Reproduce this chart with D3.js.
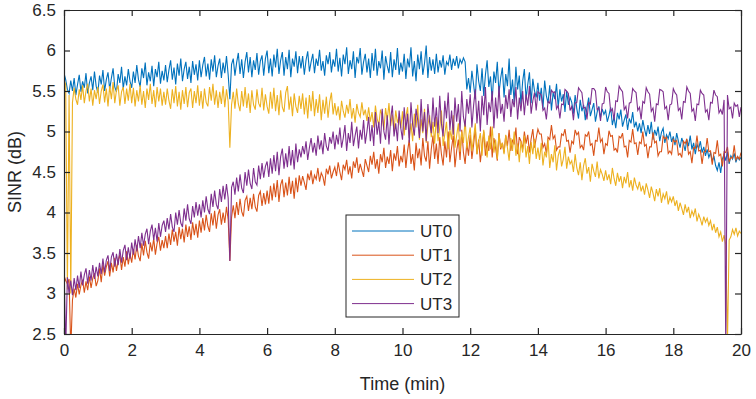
<!DOCTYPE html>
<html>
<head>
<meta charset="utf-8">
<script src="https://cdn.jsdelivr.net/npm/d3@7"></script>
<style>
  body { margin: 0; background: #fff; }
  svg text { font-family: "Liberation Sans", Arial, sans-serif; fill: #262626; }
</style>
</head>
<body>
<div id="container"></div>
<script>
// time axis: 0 to 20 min, one sample every 0.05 min (20 samples per row = 1 min)
const timeStart = 0
const timeStep = 0.05

const seriesNames = ['UT0', 'UT1', 'UT2', 'UT3']

const xTicks = [0, 2, 4, 6, 8, 10, 12, 14, 16, 18, 20]
const yTicks = [2.5, 3, 3.5, 4, 4.5, 5, 5.5, 6, 6.5]

const ut0 = [
  5.72, 5.64, 5.52, 5.47, 5.63, 5.50, 5.66, 5.45, 5.58, 5.70, 5.49, 5.62, 5.54, 5.72, 5.47, 5.60, 5.68, 5.51, 5.74, 5.56,
  5.48, 5.69, 5.58, 5.76, 5.50, 5.64, 5.73, 5.52, 5.66, 5.78, 5.55, 5.49, 5.71, 5.60, 5.80, 5.53, 5.68, 5.57, 5.77, 5.62,
  5.54, 5.74, 5.60, 5.82, 5.64, 5.55, 5.78, 5.66, 5.85, 5.57, 5.73, 5.62, 5.81, 5.56, 5.77, 5.67, 5.86, 5.59, 5.75, 5.63,
  5.82, 5.61, 5.76, 5.88, 5.64, 5.79, 5.58, 5.84, 5.69, 5.90, 5.62, 5.77, 5.86, 5.65, 5.80, 5.60, 5.87, 5.70, 5.83, 5.63,
  5.88, 5.67, 5.82, 5.92, 5.68, 5.84, 5.64, 5.89, 5.74, 5.94, 5.67, 5.81, 5.90, 5.66, 5.85, 5.72, 5.93, 5.70, 5.40, 5.83,
  5.90, 5.69, 5.85, 5.97, 5.71, 5.89, 5.66, 5.86, 5.98, 5.73, 5.92, 5.67, 5.88, 5.76, 5.97, 5.70, 5.87, 5.94, 5.69, 5.90,
  6.00, 5.72, 5.90, 5.68, 5.95, 5.79, 6.02, 5.71, 5.88, 5.98, 5.69, 5.92, 5.77, 6.01, 5.67, 5.90, 5.80, 5.99, 5.72, 5.93,
  5.78, 5.93, 5.70, 5.88, 5.99, 5.74, 5.86, 5.96, 5.72, 5.90, 5.81, 6.01, 5.75, 5.87, 5.69, 5.94, 5.83, 5.98, 5.73, 5.89,
  5.80, 6.02, 5.74, 5.91, 5.68, 5.95, 5.83, 6.04, 5.71, 5.88, 5.77, 5.99, 5.66, 5.92, 5.84, 6.03, 5.70, 5.86, 5.96, 5.73,
  5.90, 5.66, 5.97, 5.75, 6.02, 5.69, 5.87, 5.78, 6.00, 5.64, 5.93, 5.81, 5.72, 5.98, 5.67, 5.89, 5.76, 6.03, 5.70, 5.85,
  5.74, 5.96, 5.65, 5.90, 5.79, 6.04, 5.68, 5.87, 5.62, 5.95, 5.77, 5.99, 5.70, 5.84, 6.06, 5.66, 5.92, 5.75, 5.89, 5.71,
  5.96, 5.73, 5.88, 5.79, 5.94, 5.70, 5.86, 5.82, 5.95, 5.76, 5.90, 5.81, 5.93, 5.78, 5.89, 5.84, 5.91, 5.86, 5.52, 5.66,
  5.48, 5.75, 5.58, 5.40, 5.83, 5.62, 5.50, 5.78, 5.44, 5.70, 5.88, 5.55, 5.68, 5.38, 5.74, 5.60, 5.86, 5.47, 5.66, 5.79,
  5.42, 5.71, 5.56, 5.90, 5.45, 5.64, 5.36, 5.80, 5.52, 5.69, 5.33, 5.62, 5.77, 5.40, 5.58, 5.73, 5.35, 5.65, 5.50, 5.42,
  5.60, 5.38, 5.54, 5.28, 5.63, 5.44, 5.35, 5.57, 5.26, 5.48, 5.40, 5.59, 5.30, 5.52, 5.37, 5.46, 5.24, 5.50, 5.33, 5.42,
  5.36, 5.22, 5.45, 5.28, 5.16, 5.39, 5.25, 5.33, 5.14, 5.30, 5.42, 5.19, 5.27, 5.35, 5.12, 5.24, 5.31, 5.17, 5.28, 5.21,
  5.26, 5.12, 5.20, 5.30, 5.08, 5.18, 5.04, 5.23, 5.15, 5.27, 5.06, 5.14, 5.21, 5.02, 5.16, 5.10, 5.24, 5.05, 5.12, 5.00,
  5.10, 4.98, 5.14, 5.03, 4.94, 5.08, 4.97, 5.12, 4.90, 5.02, 4.95, 5.06, 4.88, 4.99, 5.04, 4.86, 4.96, 4.91, 5.00, 4.87,
  4.94, 4.83, 4.98, 4.88, 4.80, 4.92, 4.85, 4.76, 4.90, 4.82, 4.95, 4.78, 4.86, 4.72, 4.84, 4.79, 4.88, 4.74, 4.81, 4.70,
  4.78, 4.68, 4.74, 4.63, 4.70, 4.58, 4.52, 4.62, 4.49, 4.66, 4.72, 4.64, 4.75, 4.60, 4.70, 4.66, 4.73, 4.62, 4.69, 4.65,
  4.68
]

const ut1 = [
  3.22, 3.16, 3.12, 3.18, 2.30, 2.92, 3.06, 2.95, 3.12, 2.99, 3.10, 3.17, 3.01, 3.15, 3.04, 3.21, 3.07, 3.19, 3.25, 3.09,
  3.16, 3.31, 3.14, 3.36, 3.22, 3.33, 3.40, 3.21, 3.38, 3.26, 3.44, 3.28, 3.41, 3.48, 3.29, 3.45, 3.33, 3.52, 3.36, 3.49,
  3.38, 3.55, 3.42, 3.60, 3.46, 3.40, 3.62, 3.47, 3.65, 3.51, 3.43, 3.63, 3.52, 3.68, 3.48, 3.62, 3.70, 3.53, 3.66, 3.56,
  3.71, 3.56, 3.74, 3.60, 3.79, 3.64, 3.76, 3.59, 3.82, 3.67, 3.80, 3.63, 3.85, 3.70, 3.83, 3.66, 3.88, 3.72, 3.86, 3.69,
  3.90, 3.75, 3.93, 3.78, 3.97, 3.83, 3.76, 3.99, 3.84, 4.02, 3.80, 3.97, 4.04, 3.85, 4.00, 3.87, 4.07, 3.91, 3.40, 3.94,
  4.09, 3.93, 4.13, 3.97, 4.17, 4.01, 3.95, 4.15, 4.20, 4.02, 4.18, 4.04, 4.23, 4.07, 4.01, 4.21, 4.26, 4.08, 4.24, 4.10,
  4.27, 4.11, 4.33, 4.15, 4.36, 4.19, 4.40, 4.13, 4.34, 4.41, 4.19, 4.37, 4.21, 4.44, 4.23, 4.39, 4.17, 4.43, 4.25, 4.46,
  4.33, 4.45, 4.37, 4.28, 4.48, 4.40, 4.52, 4.35, 4.46, 4.41, 4.55, 4.38, 4.49, 4.44, 4.33, 4.54, 4.47, 4.58, 4.42, 4.50,
  4.56, 4.45, 4.62, 4.50, 4.40, 4.59, 4.53, 4.65, 4.47, 4.57, 4.42, 4.63, 4.55, 4.68, 4.49, 4.60, 4.52, 4.44, 4.66, 4.58,
  4.50, 4.70, 4.59, 4.75, 4.54, 4.66, 4.48, 4.72, 4.62, 4.80, 4.55, 4.69, 4.60, 4.77, 4.51, 4.73, 4.64, 4.82, 4.57, 4.70,
  4.62, 4.84, 4.55, 4.76, 4.90, 4.60, 4.72, 4.52, 4.86, 4.67, 4.79, 4.58, 4.92, 4.70, 4.63, 4.88, 4.54, 4.78, 4.95, 4.66,
  4.85, 4.60, 4.93, 4.72, 4.58, 4.88, 4.68, 5.00, 4.62, 4.80, 4.95, 4.56, 4.76, 4.90, 4.65, 5.02, 4.74, 4.60, 4.86, 4.70,
  4.96, 4.66, 4.84, 5.04, 4.72, 4.90, 4.62, 4.82, 5.00, 4.70, 4.88, 4.76, 5.06, 4.68, 4.92, 4.80, 4.64, 4.98, 4.78, 4.86,
  4.74, 4.95, 4.82, 5.02, 4.76, 4.90, 4.84, 5.05, 4.72, 4.93, 4.88, 4.78, 5.00, 4.85, 4.96, 4.74, 4.91, 5.03, 4.80, 4.92,
  5.03, 4.97, 4.97, 4.80, 4.85, 4.73, 4.93, 4.90, 5.08, 4.91, 4.95, 4.77, 4.81, 4.81, 4.97, 4.95, 5.03, 4.88, 4.89, 4.74,
  4.88, 4.85, 5.02, 4.96, 4.99, 4.80, 4.83, 4.77, 4.96, 4.94, 5.00, 4.83, 4.85, 4.70, 4.89, 4.88, 5.05, 4.87, 4.91, 4.72,
  4.85, 4.83, 5.01, 4.94, 4.95, 4.77, 4.79, 4.74, 4.94, 4.92, 4.98, 4.81, 4.82, 4.68, 4.89, 4.87, 5.03, 4.85, 4.86, 4.71,
  4.87, 4.85, 5.00, 4.82, 4.84, 4.67, 4.81, 4.81, 4.99, 4.86, 4.88, 4.70, 4.75, 4.75, 4.94, 4.91, 4.93, 4.73, 4.76, 4.72,
  4.90, 4.87, 4.89, 4.71, 4.73, 4.68, 4.88, 4.85, 4.91, 4.72, 4.75, 4.61, 4.80, 4.79, 4.95, 4.76, 4.77, 4.60, 4.75, 4.75,
  4.92, 4.75, 4.76, 4.59, 4.74, 4.73, 4.89, 4.70, 4.72, 4.57, 4.75, 4.74, 4.81, 4.63, 4.68, 4.67, 4.83, 4.65, 4.69, 4.66,
  4.74
]

const ut2 = [
  5.64, 5.58, 3.05, 5.45, 3.00, 5.36, 5.54, 5.40, 5.33, 5.52, 5.39, 5.57, 5.35, 5.50, 5.59, 5.37, 5.53, 5.32, 5.51, 5.40,
  5.55, 5.34, 5.50, 5.58, 5.36, 5.53, 5.31, 5.56, 5.40, 5.61, 5.35, 5.51, 5.57, 5.32, 5.49, 5.55, 5.34, 5.53, 5.38, 5.59,
  5.35, 5.54, 5.31, 5.51, 5.37, 5.57, 5.33, 5.50, 5.29, 5.53, 5.39, 5.59, 5.34, 5.51, 5.30, 5.55, 5.37, 5.53, 5.32, 5.49,
  5.33, 5.53, 5.38, 5.28, 5.52, 5.35, 5.56, 5.31, 5.49, 5.27, 5.51, 5.34, 5.55, 5.30, 5.48, 5.53, 5.29, 5.50, 5.35, 5.57,
  5.32, 5.50, 5.28, 5.53, 5.36, 5.31, 5.55, 5.38, 5.59, 5.33, 5.51, 5.29, 5.49, 5.34, 5.56, 5.30, 5.52, 5.37, 4.80, 5.33,
  5.49, 5.28, 5.53, 5.34, 5.25, 5.50, 5.31, 5.55, 5.29, 5.47, 5.23, 5.51, 5.33, 5.27, 5.52, 5.35, 5.30, 5.54, 5.26, 5.46,
  5.31, 5.22, 5.49, 5.28, 5.54, 5.25, 5.45, 5.20, 5.51, 5.30, 5.24, 5.48, 5.56, 5.27, 5.43, 5.19, 5.47, 5.31, 5.23, 5.44,
  5.28, 5.47, 5.21, 5.42, 5.16, 5.45, 5.25, 5.50, 5.19, 5.40, 5.23, 5.46, 5.14, 5.39, 5.22, 5.43, 5.17, 5.37, 5.48, 5.21,
  5.35, 5.20, 5.31, 5.14, 5.38, 5.25, 5.17, 5.33, 5.22, 5.40, 5.16, 5.29, 5.11, 5.34, 5.23, 5.18, 5.36, 5.20, 5.27, 5.13,
  5.30, 5.12, 5.24, 5.05, 5.32, 5.16, 5.08, 5.27, 5.19, 5.02, 5.29, 5.14, 5.35, 5.07, 5.21, 5.00, 5.26, 5.11, 5.18, 5.04,
  5.25, 4.95, 5.18, 5.30, 4.92, 5.10, 4.88, 5.22, 5.05, 5.33, 4.90, 5.15, 4.98, 5.28, 4.86, 5.08, 5.20, 4.93, 5.12, 4.85,
  5.18, 4.88, 5.05, 5.26, 4.82, 4.97, 5.12, 4.78, 5.02, 4.90, 5.20, 4.80, 4.95, 5.10, 4.75, 5.00, 4.86, 5.15, 4.79, 4.93,
  5.05, 4.76, 4.92, 5.10, 4.72, 4.88, 4.98, 4.70, 5.02, 4.82, 4.68, 4.95, 4.78, 5.06, 4.74, 4.90, 4.66, 4.97, 4.80, 4.86,
  4.72, 4.96, 4.80, 4.64, 4.92, 4.76, 5.00, 4.70, 4.85, 4.62, 4.88, 4.74, 4.95, 4.68, 4.82, 4.60, 4.87, 4.72, 4.91, 4.66,
  4.80, 4.65, 4.86, 4.58, 4.75, 4.68, 4.90, 4.55, 4.72, 4.62, 4.83, 4.52, 4.70, 4.78, 4.57, 4.66, 4.81, 4.54, 4.69, 4.60,
  4.64, 4.50, 4.72, 4.55, 4.46, 4.62, 4.40, 4.58, 4.67, 4.48, 4.56, 4.38, 4.60, 4.51, 4.44, 4.63, 4.42, 4.53, 4.47, 4.39,
  4.52, 4.40, 4.47, 4.35, 4.55, 4.42, 4.33, 4.49, 4.38, 4.45, 4.30, 4.44, 4.36, 4.50, 4.31, 4.40, 4.27, 4.43, 4.34, 4.29,
  4.38, 4.26, 4.33, 4.22, 4.36, 4.28, 4.18, 4.32, 4.24, 4.14, 4.29, 4.20, 4.30, 4.12, 4.23, 4.17, 4.26, 4.10, 4.19, 4.13,
  4.20, 4.08, 4.15, 4.02, 4.12, 4.05, 3.97, 4.10, 4.00, 4.07, 3.93, 4.02, 3.96, 4.05, 3.89, 3.98, 3.92, 3.84, 3.95, 3.88,
  3.93, 3.84, 3.90, 3.78, 3.86, 3.75, 3.82, 3.70, 3.76, 3.64, 3.72, 3.60, 2.40, 3.66, 3.70, 3.79, 3.73, 3.81, 3.71, 3.77,
  3.74
]

const ut3 = [
  3.36, 2.30, 3.20, 3.00, 3.16, 2.98, 3.19, 3.04, 3.22, 3.07, 3.27, 3.10, 3.23, 3.31, 3.12, 3.29, 3.16, 3.35, 3.18, 3.33,
  3.21, 3.38, 3.24, 3.43, 3.26, 3.41, 3.47, 3.28, 3.45, 3.51, 3.33, 3.49, 3.35, 3.55, 3.38, 3.53, 3.60, 3.41, 3.57, 3.43,
  3.63, 3.48, 3.67, 3.52, 3.71, 3.56, 3.75, 3.59, 3.73, 3.80, 3.61, 3.77, 3.85, 3.66, 3.81, 3.64, 3.87, 3.70, 3.84, 3.90,
  3.76, 3.93, 3.79, 3.98, 3.82, 3.76, 4.00, 3.85, 4.03, 3.87, 3.82, 4.05, 3.90, 4.10, 3.92, 3.86, 4.08, 3.94, 4.13, 3.96,
  4.10, 3.94, 4.15, 4.00, 4.20, 4.04, 3.98, 4.23, 4.07, 4.27, 4.10, 4.04, 4.29, 4.13, 4.33, 4.16, 4.35, 4.18, 3.40, 4.31,
  4.38, 4.22, 4.43, 4.26, 4.47, 4.30, 4.24, 4.50, 4.33, 4.53, 4.36, 4.29, 4.55, 4.38, 4.34, 4.58, 4.41, 4.61, 4.43, 4.57,
  4.63, 4.44, 4.67, 4.48, 4.71, 4.51, 4.75, 4.46, 4.69, 4.79, 4.54, 4.73, 4.56, 4.82, 4.58, 4.77, 4.53, 4.85, 4.62, 4.78,
  4.68, 4.82, 4.72, 4.88, 4.65, 4.80, 4.92, 4.74, 4.86, 4.70, 4.95, 4.78, 4.89, 4.72, 4.98, 4.82, 4.76, 4.93, 4.85, 5.00,
  4.78, 4.96, 4.84, 5.05, 4.80, 4.92, 5.08, 4.76, 4.98, 4.86, 5.12, 4.82, 4.95, 5.06, 4.79, 5.02, 4.90, 5.14, 4.85, 5.00,
  5.18, 4.88, 5.08, 4.82, 5.24, 4.96, 5.12, 4.85, 5.28, 5.00, 4.90, 5.20, 4.84, 5.15, 5.32, 4.94, 5.10, 4.88, 5.26, 5.04,
  4.90, 5.30, 5.02, 5.22, 4.86, 5.36, 5.08, 4.95, 5.28, 5.14, 4.92, 5.40, 5.00, 5.24, 4.88, 5.34, 5.12, 4.98, 5.42, 5.06,
  5.30, 4.98, 5.44, 5.10, 4.94, 5.38, 5.16, 5.48, 5.02, 5.26, 4.96, 5.42, 5.12, 5.34, 5.00, 5.50, 5.18, 5.06, 5.40, 5.22,
  5.46, 5.05, 5.32, 5.52, 5.10, 5.38, 5.00, 5.44, 5.20, 5.55, 5.08, 5.36, 5.24, 5.50, 5.04, 5.42, 5.16, 5.56, 5.22, 5.34,
  5.12, 5.45, 5.28, 5.52, 5.18, 5.40, 5.30, 5.55, 5.15, 5.42, 5.25, 5.50, 5.20, 5.46, 5.32, 5.56, 5.22, 5.38, 5.48, 5.26,
  5.49, 5.47, 5.45, 5.26, 5.29, 5.15, 5.37, 5.35, 5.51, 5.48, 5.49, 5.28, 5.32, 5.16, 5.34, 5.33, 5.52, 5.50, 5.47, 5.26,
  5.31, 5.14, 5.35, 5.36, 5.54, 5.51, 5.48, 5.29, 5.30, 5.15, 5.36, 5.34, 5.53, 5.53, 5.50, 5.27, 5.29, 5.13, 5.34, 5.35,
  5.55, 5.49, 5.47, 5.25, 5.28, 5.14, 5.38, 5.37, 5.56, 5.52, 5.49, 5.27, 5.31, 5.16, 5.35, 5.36, 5.53, 5.50, 5.48, 5.26,
  5.30, 5.15, 5.37, 5.35, 5.54, 5.49, 5.46, 5.25, 5.29, 5.12, 5.34, 5.33, 5.52, 5.51, 5.49, 5.28, 5.31, 5.14, 5.33, 5.34,
  5.53, 5.48, 5.45, 5.26, 5.29, 5.15, 5.37, 5.36, 5.55, 5.50, 5.47, 5.25, 5.28, 5.13, 5.34, 5.33, 5.51, 5.47, 5.45, 5.24,
  5.27, 5.14, 5.36, 5.35, 5.51, 5.45, 5.43, 5.23, 5.27, 5.21, 5.39, 2.30, 5.45, 5.28, 5.30, 5.16, 5.35, 5.31, 5.33, 5.18,
  5.30
]

const colours = ['#0072BD', '#D95319', '#EDB120', '#7E2F8E']

const w = 756
const h = 399
const margin = { left: 64, right: 15, top: 10, bottom: 65 }

const svg = d3.select('#container')
  .append('svg')
  .attr('width', w)
  .attr('height', h)

const x = d3.scaleLinear().domain([0, 20]).range([margin.left, w - margin.right])
const y = d3.scaleLinear().domain([2.5, 6.5]).range([h - margin.bottom, margin.top])

svg.append('clipPath')
  .attr('id', 'plot-clip')
  .append('rect')
  .attr('x', x(0))
  .attr('y', y(6.5))
  .attr('width', x(20) - x(0))
  .attr('height', y(2.5) - y(6.5))

const allSeries = [ut0, ut1, ut2, ut3]

const line = d3.line()
  .x((d, i) => x(timeStart + i * timeStep))
  .y(d => y(d))

svg.append('g')
  .attr('clip-path', 'url(#plot-clip)')
  .selectAll('path')
  .data(allSeries)
  .enter()
  .append('path')
  .attr('d', d => line(d))
  .attr('fill', 'none')
  .attr('stroke', (d, i) => colours[i])
  .attr('stroke-width', 1.1)

// axes, MATLAB style: box with inward ticks on all four sides
const axisColour = '#262626'

const bottomAxis = svg.append('g')
  .attr('transform', 'translate(0,' + y(2.5) + ')')
  .call(d3.axisBottom(x).tickValues(xTicks).tickSizeInner(-6).tickSizeOuter(0).tickPadding(10))
const topAxis = svg.append('g')
  .attr('transform', 'translate(0,' + y(6.5) + ')')
  .call(d3.axisTop(x).tickValues(xTicks).tickSizeInner(-6).tickSizeOuter(0).tickFormat(''))
const leftAxis = svg.append('g')
  .attr('transform', 'translate(' + x(0) + ',0)')
  .call(d3.axisLeft(y).tickValues(yTicks).tickSizeInner(-6).tickSizeOuter(0).tickPadding(8).tickFormat(d3.format('')))
const rightAxis = svg.append('g')
  .attr('transform', 'translate(' + x(20) + ',0)')
  .call(d3.axisRight(y).tickValues(yTicks).tickSizeInner(-6).tickSizeOuter(0).tickFormat(''))

;[bottomAxis, topAxis, leftAxis, rightAxis].forEach(ax => {
  ax.select('.domain').attr('stroke', axisColour).attr('stroke-width', 1.2)
  ax.selectAll('.tick line').attr('stroke', axisColour).attr('stroke-width', 1.2)
  ax.selectAll('.tick text')
    .attr('fill', axisColour)
    .style('font-size', '17px')
    .style('font-family', '"Liberation Sans", Arial, sans-serif')
})

svg.append('text')
  .attr('x', (x(0) + x(20)) / 2)
  .attr('y', 390)
  .attr('text-anchor', 'middle')
  .style('font-size', '18px')
  .text('Time (min)')

svg.append('text')
  .attr('transform', 'translate(21,' + (y(2.5) + y(6.5)) / 2 + ') rotate(-90)')
  .attr('text-anchor', 'middle')
  .style('font-size', '18px')
  .text('SINR (dB)')

// legend
const legend = svg.append('g')
  .attr('transform', 'translate(346,215)')

legend.append('rect')
  .attr('width', 113)
  .attr('height', 102)
  .attr('fill', '#fff')
  .attr('stroke', axisColour)
  .attr('stroke-width', 1)

const entry = legend.selectAll('g.entry')
  .data(seriesNames)
  .enter()
  .append('g')
  .attr('class', 'entry')
  .attr('transform', (d, i) => 'translate(0,' + (16 + i * 24.2) + ')')

entry.append('line')
  .attr('x1', 6)
  .attr('x2', 68)
  .attr('stroke', (d, i) => colours[i])
  .attr('stroke-width', 1)

entry.append('text')
  .attr('x', 74)
  .attr('y', 6)
  .style('font-size', '17px')
  .text(d => d)
</script>
</body>
</html>
